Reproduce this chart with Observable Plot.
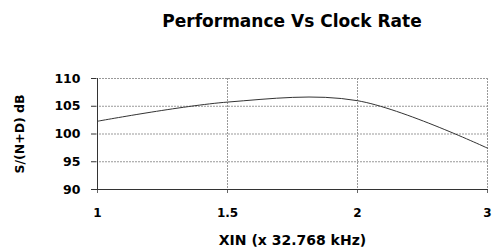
<!DOCTYPE html>
<html>
<head>
<meta charset="utf-8">
<script src="https://cdn.jsdelivr.net/npm/d3@7"></script>
<script src="https://cdn.jsdelivr.net/npm/@observablehq/plot@0.6"></script>
<style>
  html, body { margin: 0; padding: 0; background: #fff; }
  #title {
    box-sizing: border-box;
    height: 40px;
    padding: 11px 8px 0 96px;
    font: bold 17px "DejaVu Sans", sans-serif;
    line-height: 20px;
    text-align: center;
    color: #000;
  }
  svg { display: block; }
</style>
</head>
<body>
<div id="title">Performance Vs Clock Rate</div>
<div id="chart"></div>
<script>
const xCats = ["1", "1.5", "2", "3"];
const snr = [102.3, 105.75, 106.0, 97.45];
const yTicks = [90, 95, 100, 105, 110];
const xLabel = "XIN (x 32.768 kHz)";
const yLabel = "S/(N+D) dB";

const data = xCats.map((x, i) => ({x, y: snr[i]}));
const font = "DejaVu Sans, sans-serif";

const chart = Plot.plot({
  width: 496,
  height: 207,
  marginTop: 38,
  marginBottom: 58,
  marginLeft: 96,
  marginRight: 8,
  style: {fontFamily: font, background: "#fff", color: "#000"},
  x: {type: "point", domain: xCats, padding: 0},
  y: {domain: [90, 110], ticks: yTicks},
  marks: [
    Plot.gridY(yTicks.slice(1), {stroke: "#999", strokeOpacity: 1, strokeDasharray: "2,1"}),
    Plot.gridX(xCats.slice(1), {stroke: "#999", strokeOpacity: 1, strokeDasharray: "2,1"}),
    Plot.axisY(yTicks, {tickSize: 5, tickPadding: 11, fontSize: 12.5, fontWeight: "bold", stroke: "#333", label: null}),
    Plot.axisX(xCats, {tickSize: 4, tickPadding: 15, fontSize: 12, fontWeight: "bold", stroke: "#666", label: null}),
    Plot.ruleX([xCats[0]], {stroke: "#333"}),
    Plot.ruleY([yTicks[0]], {stroke: "#333"}),
    Plot.line(data, {x: "x", y: "y", curve: "catmull-rom", stroke: "#333", strokeWidth: 1}),
    Plot.text([yLabel], {frameAnchor: "left", textAnchor: "middle", rotate: -90, dx: -77, fontSize: 12.5, fontWeight: "bold", fill: "#000", lineAnchor: "middle"}),
    Plot.text([xLabel], {frameAnchor: "bottom", textAnchor: "middle", dy: 46, lineAnchor: "top", fontSize: 14, fontWeight: "bold", fill: "#000"})
  ]
});
document.getElementById("chart").appendChild(chart);
</script>
</body>
</html>
